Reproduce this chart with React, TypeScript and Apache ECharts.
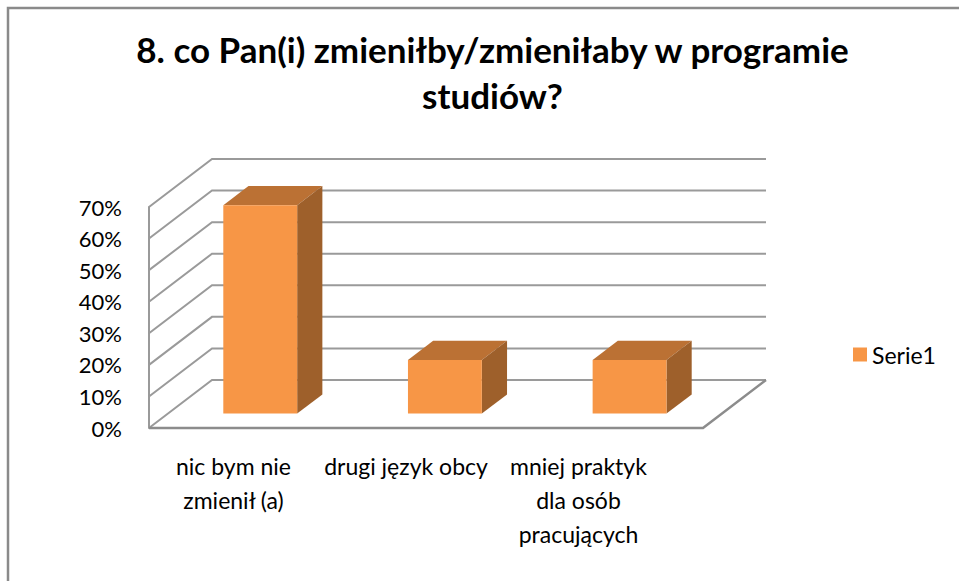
import React, { useEffect, useRef } from "react";
import * as echarts from "echarts";

const titleText = "8. co Pan(i) zmieniłby/zmieniłaby w programie\nstudiów?";
const categories = ["nic bym nie\nzmienił (a)", "drugi język obcy", "mniej praktyk\ndla osób\npracujących"];
const seriesName = "Serie1";
const values = [0.66, 0.17, 0.17];
const yTicks = [0, 0.1, 0.2, 0.3, 0.4, 0.5, 0.6, 0.7];

// oblique depth vector of the 3D box (full depth), and bar depth span
const DX = 63;
const DY = -48;
const F1 = 0.3;
const F2 = 0.7;
const BAR_W = 0.4;

const FRONT = "#F79646";
const TOP = "#BB7134";
const SIDE = "#9E602B";
const GRID = "#9a9a9a";
const FLOOR = "#8c8c8c";
const FONT = "Lato, 'Open Sans', sans-serif";

export default function App() {
  const ref = useRef<HTMLDivElement>(null);
  useEffect(() => {
    if (!ref.current) return;
    const chart = echarts.init(ref.current, undefined, { renderer: "svg" });
    const option: any = {
      animation: false,
      backgroundColor: "#ffffff",
      title: {
        text: titleText,
        left: 487.5,
        top: 21,
        textAlign: "center",
        textStyle: {
          fontFamily: FONT,
          fontWeight: "bold",
          fontSize: 35,
          lineHeight: 46,
          color: "#000",
        },
      },
      legend: {
        data: [seriesName],
        left: 853,
        top: 343,
        padding: 0,
        icon: "rect",
        itemWidth: 14,
        itemHeight: 14,
        itemGap: 5,
        textStyle: { fontFamily: FONT, fontSize: 23, color: "#000", lineHeight: 22 },
      },
      graphic: [
        {
          type: "rect",
          silent: true,
          shape: { x: 8, y: 8, width: 1000, height: 1000 },
          style: { fill: "none", stroke: "#8a8a8a", lineWidth: 2.5 },
        },
      ],
      grid: [
        { left: 149, right: 256, top: 207, bottom: 153 },
        { left: 147.25, right: 294.25, top: 300, bottom: 141 },
      ],
      xAxis: [
        {
          type: "category",
          gridIndex: 0,
          data: categories,
          axisLine: { show: false },
          axisTick: { show: false },
          axisLabel: { show: false },
        },
        {
          type: "category",
          gridIndex: 1,
          data: categories,
          axisLine: { show: false },
          axisTick: { show: false },
          axisLabel: {
            margin: 9,
            fontFamily: FONT,
            fontSize: 23,
            lineHeight: 34,
            color: "#000",
            interval: 0,
          },
        },
      ],
      yAxis: [
        {
          type: "value",
          gridIndex: 0,
          min: 0,
          max: 0.7,
          interval: 0.1,
          axisLine: { show: true, lineStyle: { color: GRID, width: 2 } },
          axisTick: { show: false },
          splitLine: { show: false },
          axisLabel: {
            margin: 27,
            fontFamily: FONT,
            fontSize: 22,
            color: "#000",
            formatter: (v: number) => Math.round(v * 100) + "%",
          },
        },
        {
          type: "value",
          gridIndex: 1,
          show: false,
        },
      ],
      series: [
        {
          type: "custom",
          name: "walls",
          xAxisIndex: 0,
          yAxisIndex: 0,
          silent: true,
          z: 1,
          data: yTicks.map((v) => [0, v]),
          renderItem: (params: any, api: any) => {
            const cs = params.coordSys;
            const y = api.coord([0, api.value(1)])[1];
            return {
              type: "polyline",
              shape: {
                points: [
                  [cs.x, y],
                  [cs.x + DX, y + DY],
                  [cs.x + cs.width + DX, y + DY],
                ],
              },
              style: { stroke: GRID, lineWidth: 2, fill: "none" },
            };
          },
        },
        {
          type: "custom",
          name: "floor",
          xAxisIndex: 0,
          yAxisIndex: 0,
          silent: true,
          z: 1,
          data: [[0, yTicks[0]]],
          renderItem: (params: any, api: any) => {
            const cs = params.coordSys;
            const y = api.coord([0, api.value(1)])[1];
            return {
              type: "polyline",
              shape: {
                points: [
                  [cs.x, y],
                  [cs.x + cs.width, y],
                  [cs.x + cs.width + DX, y + DY],
                ],
              },
              style: { stroke: FLOOR, lineWidth: 2.5, fill: "none" },
            };
          },
        },
        {
          type: "custom",
          name: seriesName,
          xAxisIndex: 0,
          yAxisIndex: 0,
          z: 3,
          itemStyle: { color: FRONT },
          data: values.map((v, i) => [i, v]),
          renderItem: (params: any, api: any) => {
            const cat = api.value(0);
            const v = api.value(1);
            const top = api.coord([cat, v]);
            const base = api.coord([cat, 0]);
            const bw = api.size([1, 0])[0] * BAR_W;
            const x0 = top[0] - bw / 2 + DX * F1;
            const x1 = x0 + bw;
            const yT = top[1] + DY * F1;
            const yB = base[1] + DY * F1;
            const ddx = DX * (F2 - F1);
            const ddy = DY * (F2 - F1);
            return {
              type: "group",
              children: [
                {
                  type: "polygon",
                  shape: { points: [[x0, yT], [x1, yT], [x1 + ddx, yT + ddy], [x0 + ddx, yT + ddy]] },
                  style: { fill: TOP },
                },
                {
                  type: "polygon",
                  shape: { points: [[x1, yT], [x1 + ddx, yT + ddy], [x1 + ddx, yB + ddy], [x1, yB]] },
                  style: { fill: SIDE },
                },
                {
                  type: "rect",
                  shape: { x: x0, y: yT, width: bw, height: yB - yT },
                  style: { fill: FRONT },
                },
              ],
            };
          },
        },
      ],
    };
    chart.setOption(option);
    return () => chart.dispose();
  }, []);
  return (
    <div
      ref={ref}
      style={{ position: "fixed", left: 0, top: 0, width: 959, height: 581, background: "#fff" }}
    />
  );
}
